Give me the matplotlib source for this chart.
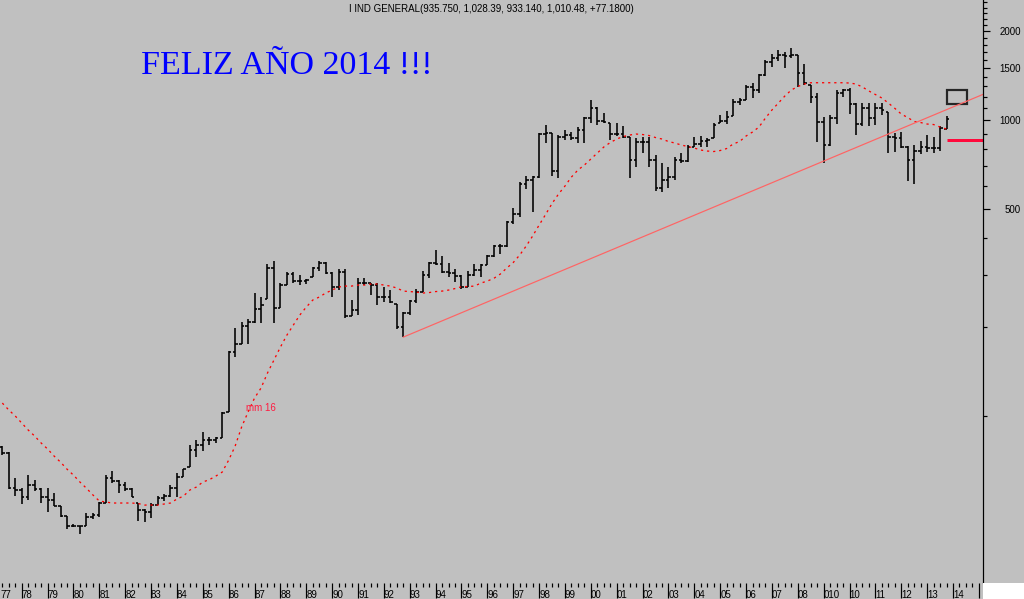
import numpy as np
import matplotlib.pyplot as plt
from matplotlib.patches import Rectangle
from matplotlib.ticker import FixedLocator, NullFormatter
import matplotlib.transforms as mtransforms

plt.rcParams['font.family'] = ['Liberation Sans', 'DejaVu Sans']
plt.rcParams['lines.scale_dashes'] = False

# quarterly bars, first visible bar is 1977 Q2
first_quarter = 1977.25

opens = [78.4, 74.8, 56.9,
         56.1, 53.1, 58.3, 56.5,
         53.1, 51.9, 49.5, 45.8,
         42.4, 42.4, 42.4, 45.4,
         46.2, 50.7, 61.5, 60.1,
         58.3, 56.5, 50.7, 48.0,
         47.3, 49.9, 52.7, 53.6,
         56.9, 62.0, 67.0, 76.6,
         79.6, 82.8, 82.8, 84.1,
         103.0, 164.2, 174.8, 201.1,
         207.4, 229.5, 248.1, 315.9,
         231.3, 276.7, 301.4, 285.5,
         285.5, 294.5, 315.9, 328.4,
         303.8, 272.4, 306.2, 217.4,
         227.8, 281.0, 281.0, 276.7,
         252.0, 252.0, 238.6, 199.5,
         222.5, 244.3, 262.0, 299.1,
         328.4, 325.9, 306.2, 303.8,
         296.8, 272.4, 299.1, 311.0,
         323.3, 346.8, 374.8, 374.8,
         451.9, 481.0, 607.5, 626.8,
         641.5, 896.7, 903.7, 672.2,
         875.9, 889.7, 869.1, 925.1,
         1015.6, 1097.9, 992.2, 976.9,
         896.7, 896.7, 875.9, 732.4,
         842.6, 842.6, 732.4, 588.9,
         626.8, 641.5, 732.4, 726.7,
         810.3, 829.5, 849.2, 869.1,
         976.9, 992.2, 1031.6, 1150.5,
         1168.6, 1293.0, 1263.3, 1419.7,
         1571.0, 1620.6, 1658.9, 1646.0,
         1658.9, 1442.1, 1313.4, 1196.2,
         984.5, 823.1, 1015.6, 1234.1,
         1263.3, 1132.7, 969.3, 1097.9,
         1015.6, 1097.9, 1064.3, 875.9,
         869.1, 810.3, 732.4, 785.5,
         810.3, 804.0, 804.0, 935.75]

highs = [79.0, 75.4, 61.5,
         56.9, 63.0, 60.6, 56.9,
         56.9, 54.8, 49.5, 45.8,
         43.0, 42.4, 46.9, 46.9,
         51.1, 63.0, 65.0, 60.6,
         59.7, 56.9, 50.7, 48.4,
         50.7, 53.6, 54.4, 58.3,
         64.0, 66.0, 79.6, 82.8,
         88.1, 84.7, 84.7, 103.0,
         165.5, 198.0, 207.4, 212.4,
         260.0, 252.0, 325.9, 333.6,
         281.0, 306.2, 306.2, 299.1,
         289.9, 318.3, 333.6, 331.0,
         306.2, 313.4, 313.4, 246.2,
         292.2, 292.2, 281.0, 281.0,
         272.4, 266.1, 238.6, 224.3,
         246.2, 268.2, 308.6, 331.0,
         363.4, 346.8, 328.4, 313.4,
         299.1, 308.6, 325.9, 325.9,
         349.5, 377.8, 380.7, 455.4,
         503.9, 617.1, 646.5, 646.5,
         903.7, 961.8, 903.7, 889.7,
         925.1, 910.8, 946.9, 1023.6,
         1168.6, 1106.5, 1056.0, 976.9,
         976.9, 954.3, 875.9, 869.1,
         875.9, 875.9, 761.4, 715.5,
         693.5, 749.6, 773.4, 823.1,
         875.9, 882.8, 869.1, 976.9,
         1039.6, 1072.6, 1177.7, 1186.9,
         1313.4, 1334.0, 1430.9, 1595.7,
         1671.9, 1724.9, 1698.2, 1751.8,
         1658.9, 1546.7, 1313.4, 1234.1,
         1023.6, 1039.6, 1263.3, 1273.0,
         1283.0, 1141.6, 1141.6, 1141.6,
         1141.6, 1141.6, 1064.3, 903.7,
         910.8, 816.7, 823.1, 849.2,
         889.7, 875.9, 954.3, 1028.39]

lows = [73.7, 56.5, 53.5,
        50.3, 51.9, 55.7, 50.7,
        47.3, 49.5, 45.4, 41.4,
        42.1, 39.8, 42.4, 44.7,
        45.4, 50.7, 59.2, 54.8,
        55.7, 53.1, 44.1, 43.7,
        45.1, 49.9, 51.5, 53.1,
        53.1, 62.0, 67.0, 72.5,
        76.0, 79.6, 80.9, 84.1,
        103.0, 157.9, 174.8, 174.8,
        205.8, 205.8, 248.1, 205.8,
        231.3, 276.7, 281.0, 276.7,
        278.9, 294.5, 308.6, 301.4,
        252.0, 266.1, 214.0, 217.4,
        219.1, 276.7, 255.9, 236.8,
        242.4, 240.5, 196.4, 184.5,
        219.1, 240.5, 262.0, 292.2,
        323.3, 303.8, 294.5, 283.2,
        268.2, 272.4, 296.8, 294.5,
        323.3, 344.1, 352.2, 371.9,
        444.9, 469.8, 584.3, 488.5,
        636.5, 836.0, 646.5, 636.5,
        855.8, 855.8, 836.0, 836.0,
        976.9, 961.8, 976.9, 855.8,
        882.8, 869.1, 636.5, 693.5,
        773.4, 693.5, 575.3, 570.8,
        588.9, 626.8, 715.5, 721.1,
        810.3, 810.3, 810.3, 869.1,
        976.9, 969.3, 1031.6, 1123.9,
        1168.6, 1186.9, 1234.1, 1408.7,
        1510.9, 1583.3, 1499.2, 1620.6,
        1293.0, 1313.4, 1141.6, 842.6,
        715.5, 816.7, 969.3, 1196.2,
        1047.8, 889.7, 954.3, 954.3,
        961.8, 1039.6, 773.4, 779.4,
        804.0, 621.9, 607.5, 767.4,
        779.4, 773.4, 785.5, 933.14]

closes = [74.8, 56.9, 56.1,
          53.1, 58.3, 56.5, 53.1,
          51.9, 49.5, 45.8, 42.4,
          42.4, 42.4, 45.4, 46.2,
          50.7, 61.5, 60.1, 58.3,
          56.5, 53.1, 48.0, 47.3,
          49.9, 52.7, 53.6, 56.9,
          62.0, 66.0, 76.6, 79.6,
          82.8, 82.8, 84.1, 102.2,
          164.2, 174.8, 201.1, 207.4,
          229.5, 236.8, 315.9, 231.3,
          276.7, 301.4, 285.5, 285.5,
          287.7, 315.9, 328.4, 303.8,
          272.4, 306.2, 217.4, 227.8,
          281.0, 281.0, 276.7, 252.0,
          252.0, 242.4, 199.5, 222.5,
          244.3, 262.0, 299.1, 328.4,
          325.9, 306.2, 303.8, 296.8,
          272.4, 299.1, 311.0, 323.3,
          346.8, 374.8, 374.8, 451.9,
          481.0, 607.5, 626.8, 641.5,
          896.7, 903.7, 672.2, 875.9,
          889.7, 869.1, 925.1, 1015.6,
          1097.9, 992.2, 984.5, 896.7,
          896.7, 875.9, 732.4, 842.6,
          842.6, 732.4, 588.9, 626.8,
          641.5, 732.4, 726.7, 810.3,
          829.5, 849.2, 855.8, 961.8,
          992.2, 1023.6, 1150.5, 1168.6,
          1293.0, 1263.3, 1419.7, 1571.0,
          1620.6, 1658.9, 1646.0, 1658.9,
          1442.1, 1334.0, 1196.2, 984.5,
          823.1, 1015.6, 1234.1, 1263.3,
          1132.7, 969.3, 1097.9, 1015.6,
          1097.9, 1081.0, 875.9, 869.1,
          810.3, 732.4, 785.5, 810.3,
          804.0, 804.0, 939.5, 1010.48]

# 16 period moving average as drawn on the chart
ma16 = [110.4, 104.6, 99.8,
        94.5, 89.5, 85.4, 80.9,
        77.2, 73.1, 69.7, 66.0,
        63.0, 59.7, 56.9, 54.0,
        51.5, 51.1, 50.7, 50.7,
        50.7, 50.7, 50.5, 49.9,
        49.9, 49.9, 50.3, 50.7,
        52.3, 53.5, 56.1, 57.4,
        59.7, 60.8, 62.5, 64.5,
        70.8, 79.0, 91.6, 103.0,
        114.8, 124.1, 139.5, 154.3,
        170.7, 187.4, 202.6, 219.1,
        233.1, 246.2, 252.0, 260.0,
        266.1, 272.4, 274.5, 274.5,
        276.7, 276.7, 278.9, 278.9,
        276.7, 274.5, 270.3, 264.0,
        263.0, 262.0, 260.0, 261.0,
        263.0, 264.0, 266.1, 269.2,
        273.1, 273.5, 274.5, 281.0,
        285.5, 291.5, 301.4, 315.9,
        329.7, 349.5, 374.8, 405.2,
        441.4, 479.1, 521.9, 562.0,
        598.1, 641.5, 677.5, 704.4,
        738.0, 773.4, 810.3, 839.2,
        862.5, 879.3, 889.7, 896.7,
        893.2, 886.3, 872.5, 862.5,
        845.9, 836.0, 823.1, 813.5,
        804.0, 791.7, 785.5, 782.5,
        788.6, 800.9, 829.5, 845.9,
        882.8, 910.8, 946.9, 1015.6,
        1081.0, 1141.6, 1205.5, 1263.3,
        1298.0, 1323.6, 1336.9, 1336.9,
        1336.9, 1336.9, 1336.9, 1336.9,
        1334.0, 1323.6, 1293.0, 1253.5,
        1219.8, 1186.9, 1141.6, 1095.4,
        1047.8, 1019.5, 988.4, 980.6,
        969.3, 965.5, 946.9, 932.2]

# long term trend line (1992 low) and the marks on the right
trend_x = [1992.75, 2015.16]
trend_y = [184.5, 1221.0]
support_level = 856
box_x = [2013.75, 2014.55]
box_y = [1133, 1263]

year_ticks = list(range(1978, 2016))
year_labels = ['78', '79', '80', '81', '82', '83', '84', '85', '86', '87',
               '88', '89', '90', '91', '92', '93', '94', '95', '96', '97',
               '98', '99', '00', '01', '02', '03', '04', '05', '06', '07',
               '08', '010', '10', '11', '12', '13', '14', '']
price_ticks = [500, 1000, 1500, 2000]
price_minor = [100, 200, 300, 400, 600, 700, 800, 900, 1100, 1200, 1300,
               1400, 1600, 1700, 1800, 1900, 2100, 2200, 2300, 2400, 2500]

header = 'I IND GENERAL(935.750, 1,028.39, 933.140, 1,010.48, +77.1800)'
title = 'FELIZ AÑO 2014 !!!'

px = 0.72  # points per pixel at 100 dpi
grey = '#c0c0c0'

t = first_quarter + 0.25 * np.arange(len(closes))

fig = plt.figure(figsize=(10.24, 5.99), dpi=100, facecolor=grey)
ax = fig.add_axes([0, 16 / 599, 983 / 1024, 583 / 599], facecolor=grey)
ax.set_yscale('log')
ax.set_xlim(1977.16, 2015.16)
ax.set_ylim(27.2, 2546)

d = 0.1
ax.vlines(t, lows, highs, color='black', lw=1.6 * px)
ax.hlines(opens, t - d, t, color='black', lw=1.6 * px)
ax.hlines(closes, t, t + d, color='black', lw=1.6 * px)

ax.plot(t, ma16, color='#ff0000', lw=1.3 * px, dashes=(1.6, 2.8))
ax.text(1986.67, 106, 'mm 16', color='#ff1a40', fontsize=7, va='center')

ax.plot(trend_x, trend_y, color='#ff6464', lw=1.2 * px)
ax.hlines(support_level, t[-1], 2015.16, color='#ff0a3c', lw=3 * px)
ax.add_patch(Rectangle((box_x[0], box_y[0]), box_x[1] - box_x[0],
                       box_y[1] - box_y[0], fill=False,
                       edgecolor='#262626', lw=2.2 * px))

for s in ['top', 'left', 'bottom']:
    ax.spines[s].set_visible(False)
ax.spines['right'].set_color('black')
ax.spines['right'].set_linewidth(1.2 * px)

# price axis on the right
ax.yaxis.tick_right()
ax.yaxis.set_major_locator(FixedLocator(price_ticks))
ax.set_yticklabels([str(v) for v in price_ticks])
ax.yaxis.set_minor_locator(FixedLocator(price_minor))
ax.yaxis.set_minor_formatter(NullFormatter())
ax.tick_params(axis='y', which='major', direction='out', length=7 * px,
               width=1.2 * px, pad=31 * px, labelsize=7, colors='black')
ax.tick_params(axis='y', which='minor', direction='out', length=3.5 * px,
               width=1.2 * px)
for lab in ax.get_yticklabels():
    lab.set_horizontalalignment('right')

# time axis
ax.set_xticks(year_ticks)
ax.set_xticklabels(year_labels)
ax.set_xticks(np.arange(1977.25, 2015.2, 0.25), minor=True)
ax.tick_params(axis='x', which='major', direction='out', length=15 * px,
               width=1.2 * px, pad=-8 * px, labelsize=7, colors='black')
ax.tick_params(axis='x', which='minor', direction='out', length=3.5 * px,
               width=1.2 * px)
for lab in ax.get_xticklabels():
    lab.set_horizontalalignment('left')
# the 1977 tick itself falls just left of the frame, keep its label visible
ax.text(0.0, -7 / 583, '77', transform=ax.transAxes, ha='left', va='top',
        fontsize=7, clip_on=False)

fig.text(491 / 1024, 1 - 8.5 / 599, header, ha='center', va='center',
         fontsize=7)
fig.text(141 / 1024, 1 - 74 / 599, title, family='Liberation Serif',
         fontsize=24.5, color='#0000ff', va='baseline', ha='left')

fig.add_artist(Rectangle((983 / 1024, 0), 41 / 1024, 16 / 599,
                         transform=fig.transFigure, facecolor='white',
                         edgecolor='none'))

fig.savefig('out.png', dpi=100, facecolor=fig.get_facecolor())
